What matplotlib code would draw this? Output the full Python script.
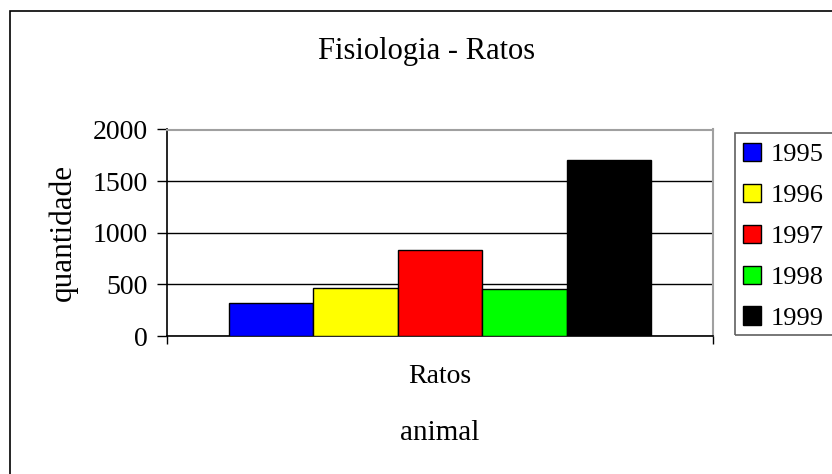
import matplotlib
matplotlib.use("Agg")
import matplotlib.pyplot as plt
from matplotlib.patches import Rectangle

# dados
categoria = "Ratos"
anos = ["1995", "1996", "1997", "1998", "1999"]
quantidades = [322, 462, 833, 452, 1705]
cores = ["#0000ff", "#ffff00", "#ff0000", "#00ff00", "#000000"]
yticks = [0, 500, 1000, 1500, 2000]

plt.rcParams["font.family"] = ["Liberation Serif", "DejaVu Serif"]

W, H = 832, 474
fig = plt.figure(figsize=(W / 100, H / 100), dpi=100)
ax = fig.add_axes([167 / W, 1 - 336 / H, (713 - 167) / W, (336 - 129.5) / H])

# moldura externa do gráfico
fig.patches.append(Rectangle((10 / W, -0.1), 1.2, 1 - 11 / H + 0.1,
                             transform=fig.transFigure, fill=False,
                             edgecolor="black", linewidth=1.2))

n = len(anos)
grupo = 0.773
larg = grupo / n
for i, (ano, v, c) in enumerate(zip(anos, quantidades, cores)):
    x = -grupo / 2 + larg * (i + 0.5)
    ax.bar(x, v, width=larg, color=c, edgecolor="black", linewidth=1.0,
           label=ano, zorder=3)

ax.set_xlim(-0.5, 0.5)
ax.set_ylim(0, 2000)
ax.set_yticks(yticks)
ax.set_yticklabels([str(t) for t in yticks], fontsize=20)
ax.yaxis.grid(True, color="black", linewidth=1.0, zorder=0)
ax.tick_params(axis="y", direction="out", length=7, width=1, pad=7)

ax.set_xticks([-0.5, 0.5])
ax.set_xticklabels(["", ""])
ax.tick_params(axis="x", direction="out", length=6, width=1)
ax.set_xticks([0], minor=True)
ax.set_xticklabels([categoria], minor=True, fontsize=20)
ax.tick_params(axis="x", which="minor", length=0, pad=20)

for s in ["top", "right"]:
    ax.spines[s].set_color("#a0a0a0")
    ax.spines[s].set_linewidth(1.5)
for s in ["left", "bottom"]:
    ax.spines[s].set_color("black")
    ax.spines[s].set_linewidth(1.2)

fig.text(427 / W, 1 - 51 / H, "Fisiologia - Ratos", fontsize=22,
         ha="center", va="center")
fig.text(440 / W, 1 - 433 / H, "animal", fontsize=21,
         ha="center", va="center")
fig.text(63 / W, 1 - 232 / H, "quantidade", fontsize=22.5, rotation=90,
         ha="center", va="center")

leg = fig.legend(loc="upper left", bbox_to_anchor=(735 / W, 1 - 135 / H),
                 fontsize=19, frameon=False,
                 handlelength=0.7, handleheight=0.7, handletextpad=0.35,
                 labelspacing=0.66, borderpad=0.3, borderaxespad=0)

# caixa da legenda, que continua além da borda direita
fig.patches.append(Rectangle((735 / W, 1 - 335 / H), 0.2, (335 - 133) / H,
                             transform=fig.transFigure, fill=False,
                             edgecolor="#606060", linewidth=1.2))

fig.savefig("out.png", dpi=100)
